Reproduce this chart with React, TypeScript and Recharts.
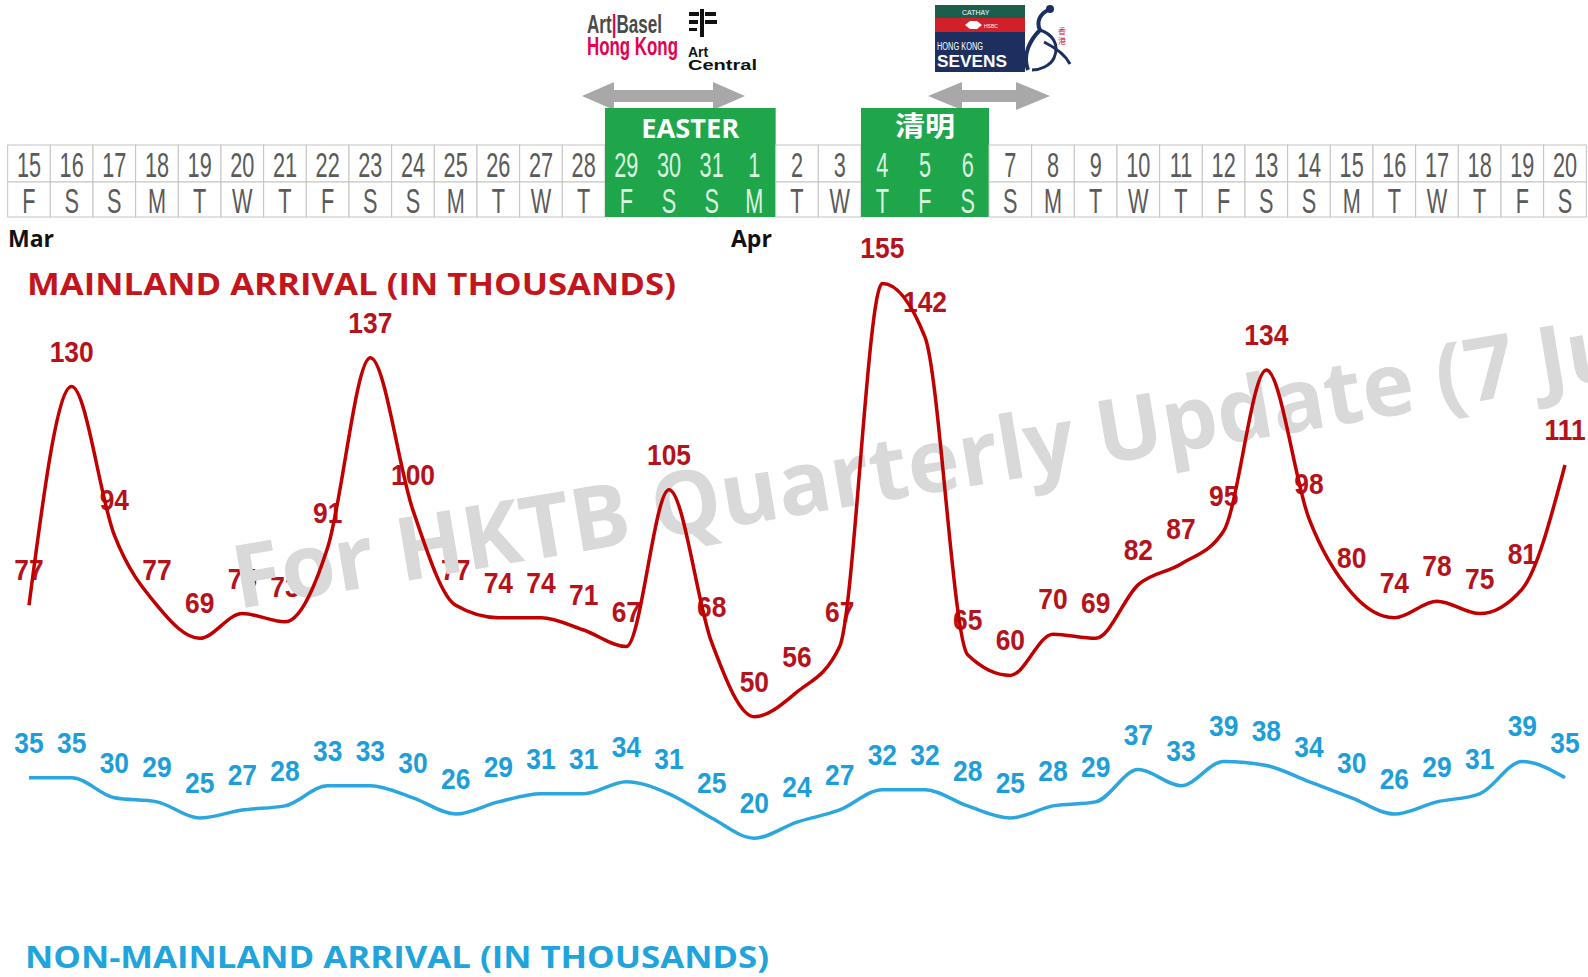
import React from 'react';
import { LineChart, Line, XAxis, YAxis, LabelList } from 'recharts';

// Mar 15 – Apr 20
const days = [
  '15', '16', '17', '18', '19', '20', '21', '22', '23', '24', '25', '26', '27', '28', '29', '30', '31',
  '1', '2', '3', '4', '5', '6', '7', '8', '9', '10', '11', '12', '13', '14', '15', '16', '17', '18', '19', '20',
];
const weekdays = [
  'F', 'S', 'S', 'M', 'T', 'W', 'T', 'F', 'S', 'S', 'M', 'T', 'W', 'T', 'F', 'S', 'S',
  'M', 'T', 'W', 'T', 'F', 'S', 'S', 'M', 'T', 'W', 'T', 'F', 'S', 'S', 'M', 'T', 'W', 'T', 'F', 'S',
];
const mainland = [
  77, 130, 94, 77, 69, 75, 73, 91, 137, 100, 77, 74, 74, 71, 67, 105, 68,
  50, 56, 67, 155, 142, 65, 60, 70, 69, 82, 87, 95, 134, 98, 80, 74, 78, 75, 81, 111,
];
const nonMainland = [
  35, 35, 30, 29, 25, 27, 28, 33, 33, 30, 26, 29, 31, 31, 34, 31, 25,
  20, 24, 27, 32, 32, 28, 25, 28, 29, 37, 33, 39, 38, 34, 30, 26, 29, 31, 39, 35,
];
const holidays = [
  { label: 'EASTER', from: 14, to: 17 },
  { label: '清明', from: 20, to: 22 },
];

const rows = days.map((d, i) => ({
  key: i,
  day: d,
  mainland: mainland[i],
  nonMainland: nonMainland[i],
}));

const W = 1588;
const H = 977;
const MARGIN = { top: 0, right: 2, bottom: 0, left: 8 };
const PAD = 21;
const STEP = (W - MARGIN.left - MARGIN.right - 2 * PAD) / (days.length - 1);
const HEAD_TOP = 108;
const ROW1 = 145;
const ROW2 = 182;
const ROW_END = 217;

const M_DOMAIN: [number, number] = [-13.09, 171.1];
const N_DOMAIN: [number, number] = [-14.36, 173.8];

const RED = '#c00000';
const RED_TXT = '#b5121b';
const BLUE = '#2ba6de';
const BLUE_TXT = '#1e9ed8';
const GREEN = '#1fa64b';
const SANS = "'Liberation Sans', Arial, sans-serif";
const OPEN = "'Open Sans', 'Liberation Sans', sans-serif";

function DayCell(props: any) {
  const x: number = props.x;
  const i: number = props.index ?? props.payload?.index ?? 0;
  const left = x - STEP / 2;
  const group = holidays.find((g) => i >= g.from && i <= g.to);
  const color = group ? '#dcf3e2' : '#5a5a5a';
  return (
    <g>
      {group && i === group.from && (
        <g>
          <rect
            x={left}
            y={HEAD_TOP}
            width={(group.to - group.from + 1) * STEP}
            height={ROW_END - HEAD_TOP}
            fill={GREEN}
          />
          <text
            x={left + ((group.to - group.from + 1) * STEP) / 2}
            y={group.label === 'EASTER' ? 138 : 136}
            textAnchor="middle"
            fontSize={group.label === 'EASTER' ? 26 : 27}
            fontWeight="bold"
            fontFamily={group.label === 'EASTER' ? OPEN : "'Noto Sans CJK SC', sans-serif"}
            fill="#ffffff"
            textLength={group.label === 'EASTER' ? 98 : 60}
            lengthAdjust="spacingAndGlyphs"
          >
            {group.label}
          </text>
        </g>
      )}
      {!group && (
        <g>
          <rect x={left} y={ROW1} width={STEP} height={ROW2 - ROW1} fill="#fff" stroke="#c4c4c4" strokeWidth={1} />
          <rect x={left} y={ROW2} width={STEP} height={ROW_END - ROW2} fill="#fff" stroke="#c4c4c4" strokeWidth={1} />
        </g>
      )}
      <text
        transform={`translate(${x},177) scale(0.62,1)`}
        textAnchor="middle"
        fontSize={35}
        fontFamily={SANS}
        fill={color}
      >
        {days[i]}
      </text>
      <text
        transform={`translate(${x},213) scale(0.62,1)`}
        textAnchor="middle"
        fontSize={35}
        fontFamily={SANS}
        fill={color}
      >
        {weekdays[i]}
      </text>
    </g>
  );
}

const makeLabel = (color: string) => (props: any) => {
  const vb = props.viewBox || {};
  const x = props.x ?? vb.x;
  const y = props.y ?? vb.y;
  if (x == null || y == null) return null;
  return (
    <text
      transform={`translate(${x},${y - 25}) scale(0.88,1)`}
      textAnchor="middle"
      fontSize={30}
      fontWeight="bold"
      fontFamily={SANS}
      fill={color}
    >
      {props.value}
    </text>
  );
};

function Arrow({ x1, x2, y, head }: { x1: number; x2: number; y: number; head: number }) {
  const s = 6;
  const h = 14;
  const pts = [
    [x1, y],
    [x1 + head, y - h],
    [x1 + head, y - s],
    [x2 - head, y - s],
    [x2 - head, y - h],
    [x2, y],
    [x2 - head, y + h],
    [x2 - head, y + s],
    [x1 + head, y + s],
    [x1 + head, y + h],
  ]
    .map((p) => p.join(','))
    .join(' ');
  return <polygon points={pts} fill="#a8a8a8" />;
}

function Decor() {
  return (
    <svg width={W} height={H} style={{ position: 'absolute', left: 0, top: 0 }}>
      {/* Art Basel Hong Kong */}
      <text x={587} y={33} fontSize={25} fontWeight="bold" fontFamily={SANS} fill="#4a4a4a" textLength={75} lengthAdjust="spacingAndGlyphs">
        Art<tspan fill="#e4004f">|</tspan>Basel
      </text>
      <text x={587} y={55} fontSize={25} fontWeight="bold" fontFamily={SANS} fill="#e4004f" textLength={91} lengthAdjust="spacingAndGlyphs">
        Hong Kong
      </text>
      {/* Art Central */}
      <g fill="#111">
        <rect x={689} y={12} width={10} height={4} />
        <rect x={705} y={12} width={11} height={4} />
        <rect x={689} y={20} width={9} height={4} />
        <rect x={705} y={20} width={12} height={4} />
        <rect x={689} y={28} width={8} height={3} />
        <rect x={700} y={9} width={4} height={28} />
      </g>
      <text x={688} y={57} fontSize={14} fontWeight="bold" fontFamily={SANS} fill="#111">Art</text>
      <text x={688} y={70} fontSize={14} fontWeight="bold" fontFamily={SANS} fill="#111" textLength={69} lengthAdjust="spacingAndGlyphs">
        Central
      </text>
      {/* HK Sevens */}
      <rect x={935} y={5} width={90} height={13} fill="#1c5e4c" />
      <rect x={935} y={18} width={90} height={14} fill="#d2202a" />
      <rect x={935} y={32} width={90} height={40} fill="#1d2f5f" />
      <text x={962} y={15} fontSize={7} fill="#fff" fontFamily={SANS}>CATHAY</text>
      <polygon points="965,25 970,21 977,21 982,25 977,29 970,29" fill="#fff" />
      <text x={984} y={28} fontSize={5} fill="#fff" fontFamily={SANS}>HSBC</text>
      <text x={937} y={50} fontSize={10} fill="#fff" fontFamily={SANS} textLength={46} lengthAdjust="spacingAndGlyphs">
        HONG KONG
      </text>
      <text x={937} y={67} fontSize={17} fontWeight="bold" fill="#fff" fontFamily={SANS} textLength={70} lengthAdjust="spacingAndGlyphs">
        SEVENS
      </text>
      <path d="M1048 10 C1040 14 1036 22 1040 30 C1030 40 1022 55 1028 70" stroke="#1d2f5f" strokeWidth={4} fill="none" />
      <path d="M1040 30 C1052 34 1060 44 1054 58 C1050 66 1040 70 1032 70" stroke="#1d2f5f" strokeWidth={3} fill="none" />
      <path d="M1044 42 C1056 48 1066 56 1070 64" stroke="#1d2f5f" strokeWidth={3} fill="none" />
      <circle cx={1050} cy={9} r={4} fill="#1d2f5f" />
      <text x={1058} y={34} fontSize={8} fill="#d2202a" fontFamily="'Noto Sans CJK TC', sans-serif">香</text>
      <text x={1058} y={44} fontSize={8} fill="#d2202a" fontFamily="'Noto Sans CJK TC', sans-serif">港</text>
      {/* arrows */}
      <Arrow x1={582} x2={745} y={96} head={32} />
      <Arrow x1={928} x2={1050} y={96} head={34} />
      {/* month markers */}
      <text x={8} y={247} fontSize={23} fontWeight="bold" fontFamily={OPEN} fill="#111">Mar</text>
      <text x={731} y={247} fontSize={23} fontWeight="bold" fontFamily={OPEN} fill="#111">Apr</text>
      {/* titles */}
      <text x={27} y={295} fontSize={31} fontWeight="bold" fontFamily={OPEN} fill="#c3161c" textLength={649} lengthAdjust="spacingAndGlyphs">
        MAINLAND ARRIVAL (IN THOUSANDS)
      </text>
      <text x={25} y={968} fontSize={31} fontWeight="bold" fontFamily={OPEN} fill="#21a4dc" textLength={744} lengthAdjust="spacingAndGlyphs">
        NON-MAINLAND ARRIVAL (IN THOUSANDS)
      </text>
    </svg>
  );
}

function Watermark() {
  return (
    <svg width={W} height={H} style={{ position: 'absolute', left: 0, top: 0, pointerEvents: 'none' }}>
      <text
        x={238}
        y={609}
        transform="rotate(-9.5 238 609)"
        fontSize={88}
        fontWeight="bold"
        fontFamily={OPEN}
        fill="#d9d9d9"
      >
        For HKTB Quarterly Update (7 June)
      </text>
    </svg>
  );
}

export default function App() {
  return (
    <div style={{ position: 'absolute', left: 0, top: 0, width: W, height: H, background: '#fff', overflow: 'hidden' }}>
      <Decor />
      <div style={{ position: 'absolute', left: 0, top: 0 }}>
        <LineChart width={W} height={H} data={rows} margin={MARGIN}>
          <XAxis
            dataKey="key"
            orientation="top"
            height={ROW_END}
            interval={0}
            axisLine={false}
            tickLine={false}
            tick={(p: any) => <DayCell {...p} />}
            padding={{ left: PAD, right: PAD }}
          />
          <YAxis yAxisId="m" hide domain={M_DOMAIN} allowDataOverflow />
          <YAxis yAxisId="n" hide domain={N_DOMAIN} allowDataOverflow />
          <Line yAxisId="m" dataKey="mainland" stroke="none" dot={false} isAnimationActive={false}>
            <LabelList dataKey="mainland" content={makeLabel(RED_TXT)} />
          </Line>
          <Line yAxisId="n" dataKey="nonMainland" stroke="none" dot={false} isAnimationActive={false}>
            <LabelList dataKey="nonMainland" content={makeLabel(BLUE_TXT)} />
          </Line>
        </LineChart>
      </div>
      <Watermark />
      <div style={{ position: 'absolute', left: 0, top: 0 }}>
        <LineChart width={W} height={H} data={rows} margin={{ ...MARGIN, top: ROW_END }}>
          <XAxis dataKey="key" hide padding={{ left: PAD, right: PAD }} />
          <YAxis yAxisId="m" hide domain={M_DOMAIN} allowDataOverflow />
          <YAxis yAxisId="n" hide domain={N_DOMAIN} allowDataOverflow />
          <Line
            yAxisId="m"
            type="monotone"
            dataKey="mainland"
            stroke={RED}
            strokeWidth={3.5}
            dot={false}
            isAnimationActive={false}
          />
          <Line
            yAxisId="n"
            type="monotone"
            dataKey="nonMainland"
            stroke={BLUE}
            strokeWidth={3.5}
            dot={false}
            isAnimationActive={false}
          />
        </LineChart>
      </div>
    </div>
  );
}
